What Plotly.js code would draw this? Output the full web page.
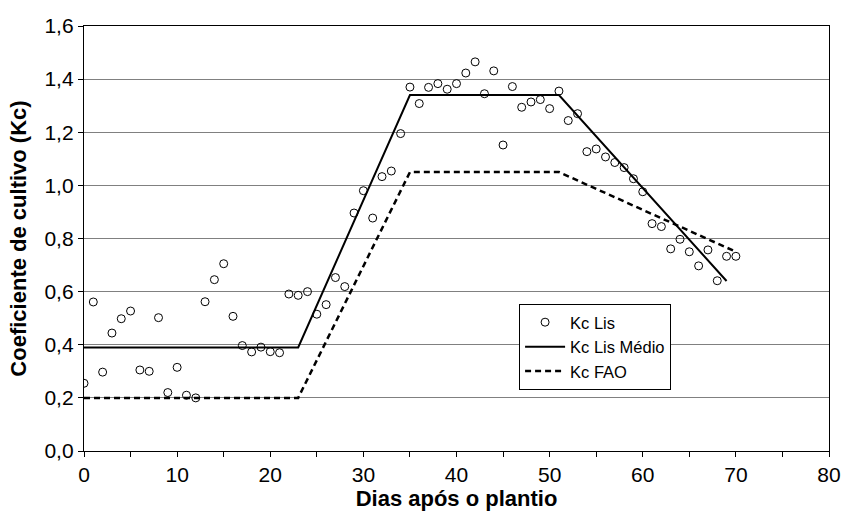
<!DOCTYPE html>
<html><head><meta charset="utf-8">
<script src="https://cdn.plot.ly/plotly-3.0.1.min.js"></script>
<style>html,body{margin:0;padding:0;background:#fff}</style>
</head><body><div id="chart" style="width:842px;height:521px"></div>
<script>
const dias = [0,1,2,3,4,5,6,7,8,9,10,11,12,13,14,15,16,17,18,19,20,21,22,23,24,25,26,27,28,29,30,31,32,33,34,35,36,37,38,39,40,41,42,43,44,45,46,47,48,49,50,51,52,53,54,55,56,57,58,59,60,61,62,63,64,65,66,67,68,69,70];
const kcLis = [0.255,0.561,0.297,0.444,0.498,0.527,0.305,0.300,0.502,0.220,0.315,0.210,0.200,0.562,0.645,0.705,0.507,0.397,0.373,0.391,0.374,0.370,0.591,0.586,0.600,0.515,0.551,0.653,0.619,0.896,0.980,0.877,1.033,1.054,1.195,1.370,1.308,1.369,1.383,1.362,1.383,1.423,1.465,1.345,1.431,1.152,1.372,1.294,1.314,1.323,1.289,1.355,1.244,1.270,1.127,1.137,1.107,1.086,1.067,1.025,0.976,0.856,0.845,0.761,0.797,0.750,0.697,0.757,0.641,0.733,0.733];
const medioX = [0,23,35,51,69];
const medioY = [0.39,0.39,1.34,1.34,0.64];
const faoX = [0,23,35,51,70];
const faoY = [0.2,0.2,1.05,1.05,0.75];
const xTicks = [0,10,20,30,40,50,60,70,80];
const yTicks = [0,0.2,0.4,0.6,0.8,1.0,1.2,1.4,1.6];

const FONT = 'Liberation Sans, Arial, sans-serif';
const data = [
  {x: medioX, y: medioY, mode:'lines', name:'Kc Lis Médio', legendrank:2,
   line:{color:'#000', width:2}},
  {x: faoX, y: faoY, mode:'lines', name:'Kc FAO', legendrank:3,
   line:{color:'#000', width:2.5, dash:'6px,4px'}},
  {x: dias, y: kcLis, mode:'markers', name:'Kc Lis', legendrank:1,
   marker:{symbol:'circle-open', size:8, color:'#000', line:{width:1, color:'#000'}}}
];
const layout = {
  width:842, height:521,
  margin:{l:84, r:13, t:26, b:70},
  paper_bgcolor:'#fff', plot_bgcolor:'#fff',
  separators:',.',
  font:{family:FONT, size:21, color:'#000'},
  showlegend:true,
  legend:{x:0.584, y:0.346, xanchor:'left', yanchor:'top', bgcolor:'#fff',
    bordercolor:'#000', borderwidth:1, font:{family:FONT, size:16.5, color:'#000'},
    itemwidth:40, tracegroupgap:0},
  xaxis:{range:[0,80], tickvals:xTicks, ticktext:xTicks.map(String),
    ticks:'outside', ticklen:5, tickcolor:'#000',
    minor:{dtick:5, ticks:'outside', ticklen:5, tickcolor:'#000'},
    showgrid:false, zeroline:false,
    showline:true, linecolor:'#000', linewidth:1.2, mirror:true,
    tickfont:{family:FONT, size:21, color:'#000'},
    title:{text:'<b>Dias após o plantio</b>', font:{family:FONT, size:22, color:'#000'}, standoff:4}},
  yaxis:{range:[0,1.6], tickvals:yTicks, tickformat:'.1f',
    ticks:'outside', ticklen:5, tickcolor:'#000',
    showgrid:true, gridcolor:'#808080', gridwidth:1, zeroline:false,
    showline:true, linecolor:'#000', linewidth:1.2, mirror:true,
    tickfont:{family:FONT, size:21, color:'#000'},
    title:{text:'<b>Coeficiente de cultivo (Kc)</b>', font:{family:FONT, size:22, color:'#000'}, standoff:11}}
};
Plotly.newPlot('chart', data, layout, {displayModeBar:false, staticPlot:true});
</script></body></html>
